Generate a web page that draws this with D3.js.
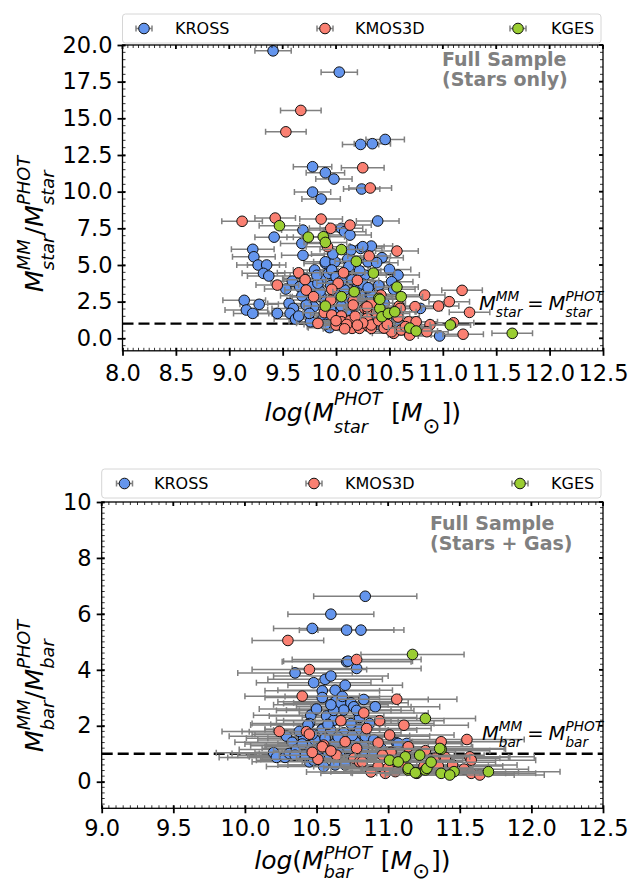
<!DOCTYPE html>
<html>
<head>
<meta charset="utf-8">
<script src="https://cdn.jsdelivr.net/npm/d3@7"></script>
<style>
  html, body { margin: 0; padding: 0; background: #fff; }
  svg { display: block; }
  text { font-family: 'DejaVu Sans', sans-serif; }
</style>
</head>
<body>
<svg id="fig" width="641" height="885"></svg>
<script>
// Surveys and their colours
const surveys = ['KROSS', 'KMOS3D', 'KGES'];
const surveyColors = ['#6495ED', '#FA8072', '#9ACD32'];

// Stellar mass ratio vs log stellar mass: [logM, ratio, xerr]
const starKROSS = [
  [9.41,19.6,0.17],[10.03,18.15,0.17],[9.78,11.7,0.18],[9.90,11.29,0.18],[9.98,10.86,0.17],
  [10.23,13.22,0.17],[10.34,13.27,0.17],[10.46,13.56,0.18],[9.78,9.97,0.17],[9.86,9.5,0.18],
  [10.24,10.18,0.17],[10.39,8.0,0.2],[9.42,6.9,0.18],[9.69,7.38,0.2],[9.68,6.47,0.2],
  [9.69,5.66,0.2],[9.90,5.11,0.2],[9.22,6.07,0.2],[9.23,5.56,0.2],[9.27,5.0,0.2],
  [9.35,5.0,0.18],[9.32,4.43,0.2],[9.37,4.25,0.2],[9.53,3.36,0.2],[9.59,3.90,0.2],
  [9.14,2.59,0.2],[9.16,1.93,0.2],[9.22,1.70,0.18],[9.28,2.32,0.18],[9.45,1.70,0.18],
  [9.56,2.38,0.2],[9.60,2.04,0.2],[9.57,1.70,0.2],[9.62,1.31,0.2],[9.65,1.52,0.2],
  [9.76,1.13,0.2],[9.93,0.79,0.2],[10.05,7.5,0.2],[10.08,7.27,0.2],[10.13,7.04,0.2],
  [9.90,5.22,0.2],[9.99,5.22,0.2],[10.11,5.4,0.2],[10.14,6.02,0.2],[10.23,6.13,0.2],
  [10.33,6.29,0.2],[10.25,6.25,0.2],[10.30,5.22,0.2],[10.43,5.5,0.2],[10.38,5.16,0.2],
  [9.97,5.75,0.2],[9.80,4.66,0.2],[9.86,4.02,0.2],[9.93,4.43,0.2],[9.96,4.66,0.2],
  [10.27,4.31,0.2],[10.07,4.47,0.2],[9.66,3.52,0.2],[9.77,3.52,0.2],[9.77,2.84,0.2],
  [9.74,2.61,0.2],[9.86,2.84,0.2],[10.24,2.84,0.2],[10.08,3.29,0.2],[9.79,2.15,0.2],
  [9.72,2.27,0.2],[9.99,1.70,0.2],[10.15,1.98,0.2],[10.33,2.73,0.2],[10.58,4.31,0.2],
  [10.52,3.86,0.2],[10.54,3.34,0.2],[10.79,2.04,0.2],[10.32,2.95,0.2],[10.54,1.81,0.2],
  [10.57,1.36,0.2],[10.41,0.91,0.2],[10.97,0.16,0.2],[10.33,3.0,0.2],[9.94,0.73,0.2],
  [9.85,3.2,0.2],[9.95,3.6,0.2],[10.0,3.0,0.2],[10.1,2.5,0.2],[10.2,3.5,0.2],
  [10.15,4.0,0.2],[9.88,1.4,0.2],[10.05,2.2,0.2],[10.4,3.6,0.2],[10.45,2.4,0.2],
  [9.7,4.1,0.2],[10.0,4.2,0.2],[10.35,1.6,0.2],[10.2,1.2,0.2],[9.83,3.75,0.2],
  [10.12,4.9,0.2],[10.5,4.7,0.2],[9.9,2.5,0.2],[9.95,1.95,0.2],[10.1,1.65,0.2],
  [10.18,2.95,0.2],[10.25,3.7,0.2],[9.82,4.3,0.2],[10.05,3.9,0.2],[10.3,3.45,0.2],
  [9.75,1.7,0.2],[10.12,1.0,0.2],[9.9,0.95,0.2],[10.22,4.6,0.2],[9.68,2.9,0.2],
  [10.45,1.05,0.2],[10.6,0.9,0.2]
];
const starKMOS3D = [
  [9.67,15.54,0.19],[9.53,14.08,0.19],[10.25,11.63,0.2],[10.32,10.25,0.2],[9.86,8.13,0.2],
  [9.12,7.98,0.19],[9.43,8.2,0.19],[9.95,7.5,0.2],[10.13,7.72,0.2],[9.92,6.25,0.2],
  [10.31,5.61,0.2],[10.57,5.95,0.2],[9.45,3.63,0.2],[9.65,4.47,0.2],[9.71,4.0,0.2],
  [10.07,4.47,0.2],[10.02,3.75,0.2],[9.96,3.34,0.2],[10.20,3.95,0.2],[9.72,3.29,0.2],
  [9.79,2.84,0.2],[10.16,2.55,0.2],[9.89,1.75,0.2],[9.96,1.59,0.2],[10.05,1.52,0.2],
  [10.16,2.27,0.2],[10.27,2.04,0.2],[10.30,1.93,0.2],[10.33,2.39,0.2],[9.83,1.02,0.2],
  [10.05,1.13,0.2],[10.13,1.2,0.2],[10.15,0.68,0.2],[10.22,0.68,0.2],[10.30,0.85,0.2],
  [10.33,0.68,0.2],[10.83,2.95,0.19],[11.18,3.27,0.19],[11.06,2.5,0.19],[10.96,2.2,0.19],
  [11.25,1.77,0.19],[10.74,2.16,0.19],[10.59,2.2,0.19],[10.29,2.15,0.2],[10.60,2.04,0.2],
  [10.29,1.36,0.2],[10.33,0.91,0.2],[10.68,1.13,0.2],[10.75,1.13,0.2],[10.88,0.93,0.2],
  [10.54,0.34,0.2],[10.61,0.57,0.2],[10.69,0.22,0.2],[10.85,0.45,0.2],[11.10,1.06,0.19],
  [11.19,0.28,0.19],[10.52,0.45,0.2],[10.10,0.95,0.2],[10.25,1.05,0.2],[10.4,1.2,0.2],
  [10.45,0.7,0.2],[10.0,0.9,0.2],[10.08,0.65,0.2],[10.18,1.5,0.2],[10.38,1.75,0.2],
  [10.42,2.95,0.2],[10.48,0.95,0.2],[10.58,1.45,0.2],[10.65,0.8,0.2],[10.2,0.9,0.2],
  [9.95,2.6,0.2],[10.0,1.2,0.2]
];
const starKGES = [
  [9.47,7.68,0.19],[9.74,6.9,0.2],[9.88,6.93,0.2],[9.90,6.54,0.2],[10.05,6.05,0.2],
  [10.19,5.25,0.2],[10.35,4.45,0.2],[10.05,2.84,0.2],[10.17,3.18,0.2],[9.90,2.2,0.2],
  [10.40,2.73,0.2],[10.41,2.04,0.2],[10.43,1.47,0.2],[10.49,1.70,0.2],[10.55,1.81,0.2],
  [10.57,3.5,0.2],[10.61,2.84,0.2],[10.41,2.66,0.2],[10.69,0.7,0.2],[10.75,0.5,0.2],
  [11.07,0.91,0.19],[11.65,0.34,0.19]
];

// Baryonic mass ratio vs log baryonic mass: [logM, ratio, xerr]
const barKROSS = [
  [10.84,6.63,0.36],[10.60,5.99,0.3],[10.47,5.48,0.27],[10.71,5.42,0.33],[10.81,5.42,0.3],
  [10.35,3.89,0.4],[10.48,3.54,0.4],[10.54,3.25,0.4],[10.54,3.01,0.4],[10.46,2.38,0.4],
  [10.45,2.08,0.4],[10.54,1.88,0.4],[10.29,1.63,0.4],[10.33,1.41,0.4],[10.41,1.55,0.4],
  [10.44,1.29,0.4],[10.20,1.04,0.4],[10.22,0.87,0.4],[10.28,0.87,0.4],[10.31,1.01,0.4],
  [10.43,0.89,0.4],[10.45,0.71,0.4],[10.55,0.54,0.4],[10.71,4.29,0.45],[10.78,4.05,0.45],
  [10.72,4.31,0.45],[10.56,3.66,0.4],[10.60,3.78,0.4],[10.63,3.27,0.4],[10.63,2.86,0.4],
  [10.67,2.80,0.4],[10.74,2.82,0.4],[10.76,2.68,0.4],[10.69,2.56,0.4],[10.83,2.94,0.45],
  [10.91,2.68,0.45],[10.57,2.35,0.4],[10.62,2.20,0.4],[10.74,2.08,0.4],[10.87,2.08,0.45],
  [10.44,2.03,0.4],[10.54,1.87,0.4],[10.60,1.85,0.4],[10.69,1.75,0.4],[10.80,1.85,0.4],
  [10.84,1.63,0.45],[10.49,1.49,0.4],[10.63,1.37,0.4],[10.77,1.43,0.4],[10.42,0.95,0.4],
  [10.50,1.01,0.4],[10.58,0.95,0.4],[10.66,1.04,0.4],[10.74,0.92,0.4],[10.84,1.01,0.45],
  [10.89,0.95,0.45],[10.63,0.60,0.4],[10.70,0.60,0.4],[10.48,0.77,0.4],[11.06,1.39,0.45],
  [11.13,1.37,0.45],[11.07,1.37,0.45],[10.95,1.2,0.45],[10.38,1.8,0.4],[10.5,2.6,0.4],
  [10.65,1.6,0.4],[10.72,1.2,0.4],[10.52,1.2,0.4],[10.36,1.15,0.4],[10.58,2.05,0.4],
  [10.8,2.3,0.4],[10.68,3.05,0.4],[10.47,1.7,0.4],[10.56,1.55,0.4],[10.62,2.55,0.4],
  [10.78,2.55,0.4],[10.83,1.25,0.45],[10.9,1.5,0.45],[10.4,1.35,0.4],[10.35,0.95,0.4],
  [10.52,0.85,0.4],[10.75,1.65,0.4],[10.6,2.75,0.4],[10.7,3.45,0.4]
];
const barKMOS3D = [
  [10.30,5.05,0.25],[10.45,4.01,0.4],[10.78,4.37,0.45],[10.40,3.06,0.4],[10.24,1.80,0.4],
  [10.43,1.79,0.4],[10.45,1.70,0.4],[10.51,0.80,0.4],[10.55,1.31,0.4],[10.83,2.46,0.45],
  [10.67,2.18,0.4],[10.94,2.18,0.45],[11.01,1.67,0.45],[10.54,1.25,0.4],[10.70,1.43,0.4],
  [10.78,1.19,0.4],[10.93,1.39,0.45],[10.76,0.84,0.4],[10.80,0.71,0.4],[10.93,0.54,0.45],
  [10.98,0.30,0.45],[11.06,2.95,0.42],[11.11,2.02,0.45],[11.55,1.51,0.4],[11.33,0.84,0.45],
  [11.39,0.89,0.45],[11.37,1.43,0.45],[11.57,0.89,0.45],[11.58,0.77,0.45],[11.53,0.45,0.45],
  [11.58,0.30,0.45],[11.64,0.24,0.45],[10.82,0.71,0.4],[11.14,1.25,0.45],[11.26,1.11,0.45],
  [11.40,0.87,0.45],[11.35,0.56,0.45],[11.05,0.36,0.45],[10.64,0.95,0.4],[10.6,1.1,0.4],
  [11.2,0.3,0.45],[11.0,0.5,0.45],[10.88,0.35,0.45],[10.47,1.05,0.4],[10.85,1.9,0.45],
  [11.02,1.05,0.45],[11.12,0.6,0.45],[10.96,0.95,0.45],[11.25,0.55,0.45],[11.45,0.6,0.45]
];
const barKGES = [
  [11.17,4.55,0.36],[11.26,2.26,0.35],[11.01,0.77,0.45],[11.12,0.89,0.45],[11.14,0.42,0.45],
  [11.20,0.32,0.45],[11.26,0.42,0.45],[11.37,1.16,0.45],[11.46,0.36,0.45],[11.37,0.30,0.45],
  [11.70,0.36,0.5],[11.36,1.19,0.45],[11.22,0.95,0.45],[11.07,0.71,0.45],[11.14,0.48,0.45],
  [11.19,0.32,0.45],[11.27,0.48,0.45],[11.43,0.24,0.45],[11.30,0.7,0.45]
];

// Tick values
const starXTicks = [8.0, 8.5, 9.0, 9.5, 10.0, 10.5, 11.0, 11.5, 12.0, 12.5];
const starYTicks = [0.0, 2.5, 5.0, 7.5, 10.0, 12.5, 15.0, 17.5, 20.0];
const barXTicks = [9.0, 9.5, 10.0, 10.5, 11.0, 11.5, 12.0, 12.5];
const barYTicks = [0, 2, 4, 6, 8, 10];

const svg = d3.select('#fig');
svg.append('rect').attr('width', 641).attr('height', 885).attr('fill', '#fff');

// Lay out a mathtext-like label inside one <text>: plain runs plus stacked super/subscripts
function mathText(parent, segs, fs, opt) {
  const txt = parent.append('text').attr('fill', '#000');
  let cx = 0;
  const ss = fs * 0.7;
  const run = (str, x, y, size, italic) => {
    const t = txt.append('tspan').attr('x', x).attr('y', y)
      .attr('font-size', size).attr('font-style', italic ? 'italic' : 'normal').text(str);
    return t.node().getComputedTextLength();
  };
  segs.forEach(s => {
    cx += s.padL || 0;
    if (s.t !== undefined) {
      cx += run(s.t, cx, 0, fs, !s.up) + (s.pad || 0);
    } else {
      let w = 0;
      if (s.sup) w = Math.max(w, run(s.sup, cx, -fs * opt.supShift, ss, true));
      if (s.sub) w = Math.max(w, run(s.sub, cx, fs * opt.subShift,
        s.subSize ? fs * s.subSize : ss, !s.subUp));
      cx += w + (s.pad || 0);
    }
  });
  let dx = 0;
  if (opt.anchor === 'middle') dx = -cx / 2;
  else if (opt.anchor === 'end') dx = -cx;
  txt.attr('transform', `translate(${dx},0)`);
  return txt;
}

function drawPanel(cfg) {
  const x = d3.scaleLinear().domain(cfg.xDomain).range([cfg.left, cfg.right]);
  const y = d3.scaleLinear().domain(cfg.yDomain).range([cfg.bottom, cfg.top]);
  const g = svg.append('g');

  // dashed one-to-one line
  g.append('line')
    .attr('x1', cfg.left).attr('x2', cfg.right)
    .attr('y1', y(1)).attr('y2', y(1))
    .attr('stroke', '#000').attr('stroke-width', 2.4)
    .attr('stroke-dasharray', '11,5');

  // clip data to the axes box
  const clipId = 'clip' + cfg.id;
  svg.append('clipPath').attr('id', clipId).append('rect')
    .attr('x', cfg.left).attr('y', cfg.top)
    .attr('width', cfg.right - cfg.left).attr('height', cfg.bottom - cfg.top);
  const dg = g.append('g').attr('clip-path', `url(#${clipId})`);

  cfg.series.forEach((data, i) => {
    const sg = dg.append('g');
    const eb = sg.append('g').attr('stroke', '#808080').attr('stroke-width', 1.5);
    data.forEach(d => {
      const x0 = x(d[0] - d[2]), x1 = x(d[0] + d[2]), yy = y(d[1]);
      eb.append('line').attr('x1', x0).attr('x2', x1).attr('y1', yy).attr('y2', yy);
      eb.append('line').attr('x1', x0).attr('x2', x0).attr('y1', yy - 3).attr('y2', yy + 3);
      eb.append('line').attr('x1', x1).attr('x2', x1).attr('y1', yy - 3).attr('y2', yy + 3);
    });
    sg.append('g').selectAll('circle').data(data).join('circle')
      .attr('cx', d => x(d[0])).attr('cy', d => y(d[1])).attr('r', 5.3)
      .attr('fill', surveyColors[i]).attr('stroke', '#111').attr('stroke-width', 1);
  });

  // axes: minor ticks inward on all sides, major ticks crossing on bottom/left
  const xMinor = d3.range(cfg.xDomain[0], cfg.xDomain[1] + 1e-9, cfg.xMinor);
  const yMinor = d3.range(Math.ceil(cfg.yDomain[0] / cfg.yMinor) * cfg.yMinor, cfg.yDomain[1] + 1e-9, cfg.yMinor);

  const axB = g.append('g').attr('transform', `translate(0,${cfg.bottom})`)
    .call(d3.axisBottom(x).tickValues(cfg.xTicks).tickFormat(d3.format('.1f')).tickSize(5).tickPadding(cfg.xPad));
  const axL = g.append('g').attr('transform', `translate(${cfg.left},0)`)
    .call(d3.axisLeft(y).tickValues(cfg.yTicks).tickFormat(cfg.yFormat).tickSize(5).tickPadding(5));
  [axB, axL].forEach(a => {
    a.select('.domain').remove();
    a.selectAll('.tick line').attr('stroke', '#000').attr('stroke-width', 1.8);
    a.selectAll('.tick text').attr('fill', '#000').attr('font-size', 22.5)
      .attr('font-family', "'DejaVu Sans', sans-serif");
  });
  axB.selectAll('.tick line').attr('y1', -3);
  axL.selectAll('.tick line').attr('x1', 3);
  axB.selectAll('.tick text').attr('dy', '0.71em');

  const mt = g.append('g').attr('stroke', '#000').attr('stroke-width', 0.8);
  xMinor.forEach(v => {
    mt.append('line').attr('x1', x(v)).attr('x2', x(v)).attr('y1', cfg.bottom).attr('y2', cfg.bottom - 3);
    mt.append('line').attr('x1', x(v)).attr('x2', x(v)).attr('y1', cfg.top).attr('y2', cfg.top + 3);
  });
  yMinor.forEach(v => {
    mt.append('line').attr('y1', y(v)).attr('y2', y(v)).attr('x1', cfg.left).attr('x2', cfg.left + 3);
    mt.append('line').attr('y1', y(v)).attr('y2', y(v)).attr('x1', cfg.right).attr('x2', cfg.right - 3);
  });
  const Mt = g.append('g').attr('stroke', '#000').attr('stroke-width', 1.8);
  cfg.xTicks.forEach(v => {
    Mt.append('line').attr('x1', x(v)).attr('x2', x(v)).attr('y1', cfg.top).attr('y2', cfg.top + 4);
  });
  cfg.yTicks.forEach(v => {
    Mt.append('line').attr('y1', y(v)).attr('y2', y(v)).attr('x1', cfg.right).attr('x2', cfg.right - 4);
  });

  g.append('rect').attr('x', cfg.left).attr('y', cfg.top)
    .attr('width', cfg.right - cfg.left).attr('height', cfg.bottom - cfg.top)
    .attr('fill', 'none').attr('stroke', '#000').attr('stroke-width', 1.3);

  // legend
  const lg = g.append('g');
  lg.append('rect').attr('x', cfg.left).attr('y', cfg.legTop)
    .attr('width', cfg.right - cfg.left - 2).attr('height', cfg.legH)
    .attr('rx', 3).attr('fill', '#fff').attr('fill-opacity', 0.8)
    .attr('stroke', '#d6d6d6').attr('stroke-width', 1);
  const ly = cfg.legTop + cfg.legH / 2;
  surveys.forEach((name, i) => {
    const mx = cfg.legMarkers[i];
    lg.append('line').attr('x1', mx - 8).attr('x2', mx + 8).attr('y1', ly).attr('y2', ly)
      .attr('stroke', '#808080').attr('stroke-width', 1.5);
    [mx - 8, mx + 8].forEach(cx => lg.append('line').attr('x1', cx).attr('x2', cx)
      .attr('y1', ly - 3).attr('y2', ly + 3).attr('stroke', '#808080').attr('stroke-width', 1.5));
    lg.append('circle').attr('cx', mx).attr('cy', ly).attr('r', 5.3)
      .attr('fill', surveyColors[i]).attr('stroke', '#111').attr('stroke-width', 1);
    lg.append('text').attr('x', cfg.legText[i]).attr('y', ly + 5.8)
      .attr('font-size', 16).attr('fill', '#000').text(name);
  });

  // sample note (two lines in one text element)
  const note = g.append('text').attr('font-weight', 'bold').attr('fill', '#808080').attr('font-size', 19);
  cfg.note.forEach((line, i) => {
    note.append('tspan').attr('x', cfg.noteX).attr('y', cfg.noteY + i * 20).text(line);
  });

  // one-to-one annotation
  const ann = g.append('g').attr('transform', `translate(${cfg.right},${y(1) - 13.5})`);
  mathText(ann, [
    {t: 'M'}, {sup: 'MM', sub: cfg.sub},
    {t: '=', up: true, padL: 5, pad: 5},
    {t: 'M'}, {sup: 'PHOT', sub: cfg.sub}
  ], 19.5, {anchor: 'end', supShift: 0.46, subShift: 0.36});

  // x label
  const xl = g.append('g').attr('transform', `translate(${(cfg.left + cfg.right) / 2},${cfg.bottom + cfg.xlabOff})`);
  mathText(xl, [
    {t: 'log'}, {t: '(', up: true}, {t: 'M'},
    {sup: 'PHOT', sub: cfg.sub, pad: 9},
    {t: '[', up: true}, {t: 'M'}, {sub: '⊙', subUp: true, subSize: 0.85, pad: 1},
    {t: '])', up: true}
  ], 25, {anchor: 'middle', supShift: cfg.xSupShift, subShift: cfg.xSubShift});

  // y label
  const yl = g.append('g').attr('transform', `translate(${cfg.ylabX},${cfg.ylabY}) rotate(-90)`);
  mathText(yl, [
    {t: 'M'}, {sup: 'MM', sub: cfg.sub},
    {t: '/', up: true}, {t: 'M'}, {sup: 'PHOT', sub: cfg.sub}
  ], 25.5, {anchor: 'middle', supShift: 0.52, subShift: 0.44});
}

drawPanel({
  id: 'star', series: [starKROSS, starKMOS3D, starKGES],
  xDomain: [8, 12.5], yDomain: [-0.85, 20],
  left: 122.5, right: 603, top: 45, bottom: 350.8,
  xTicks: starXTicks, yTicks: starYTicks, yFormat: d3.format('.1f'),
  xMinor: 0.05, yMinor: 0.5, xPad: 9,
  legTop: 14, legH: 29, legMarkers: [144, 325, 518], legText: [175, 355, 551],
  note: ['Full Sample', '(Stars only)'], noteX: 442, noteY: 66,
  sub: 'star', xlabOff: 70, xSupShift: 0.62, xSubShift: 0.5, ylabX: 43, ylabY: 224
});

drawPanel({
  id: 'bar', series: [barKROSS, barKMOS3D, barKGES],
  xDomain: [9, 12.5], yDomain: [-0.95, 10],
  left: 101.7, right: 603, top: 502, bottom: 808.3,
  xTicks: barXTicks, yTicks: barYTicks, yFormat: d3.format('d'),
  xMinor: 0.05, yMinor: 0.2, xPad: 7,
  legTop: 469, legH: 29, legMarkers: [124.5, 314, 520], legText: [154, 345, 551],
  note: ['Full Sample', '(Stars + Gas)'], noteX: 430, noteY: 530,
  sub: 'bar', xlabOff: 61, xSupShift: 0.42, xSubShift: 0.36, ylabX: 43, ylabY: 686
});
</script>
</body>
</html>
